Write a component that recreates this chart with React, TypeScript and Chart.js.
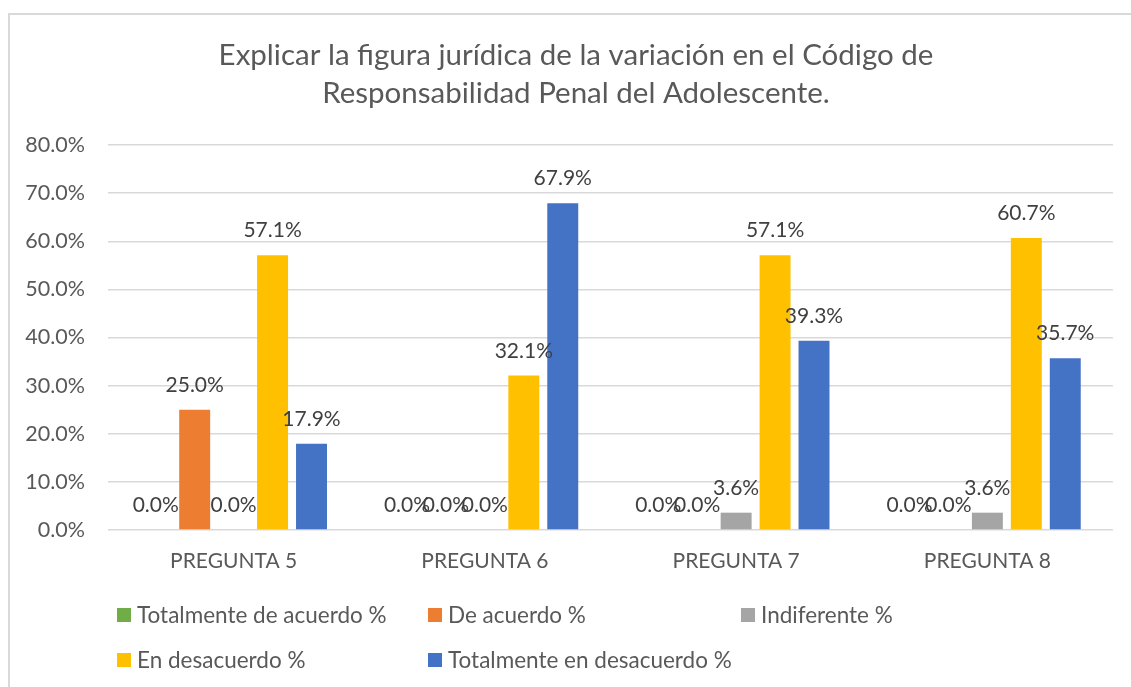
import React, { useEffect, useRef } from "react";
import { Chart, registerables } from "chart.js";

Chart.register(...registerables);

const titleLines = [
  "Explicar la figura jurídica de la variación en el Código de",
  "Responsabilidad Penal del Adolescente.",
];
const categories = ["PREGUNTA 5", "PREGUNTA 6", "PREGUNTA 7", "PREGUNTA 8"];
const seriesNames = [
  "Totalmente de acuerdo %",
  "De acuerdo %",
  "Indiferente %",
  "En desacuerdo %",
  "Totalmente en desacuerdo %",
];
const totalmenteDeAcuerdo = [0.0, 0.0, 0.0, 0.0];
const deAcuerdo = [25.0, 0.0, 0.0, 0.0];
const indiferente = [0.0, 0.0, 3.6, 3.6];
const enDesacuerdo = [57.1, 32.1, 57.1, 60.7];
const totalmenteEnDesacuerdo = [17.9, 67.9, 39.3, 35.7];
const seriesColors = ["#70AD47", "#ED7D31", "#A5A5A5", "#FFC000", "#4472C4"];
const yMax = 80;
const yStep = 10;

const FONT = "Lato, 'Open Sans', sans-serif";
const TEXT = "#595959";

const titlePlugin = {
  id: "customTitle",
  afterDraw(chart: any) {
    const ctx = chart.ctx;
    ctx.save();
    ctx.font = `29.5px ${FONT}`;
    ctx.fillStyle = TEXT;
    ctx.textAlign = "center";
    ctx.textBaseline = "middle";
    titleLines.forEach((line, i) => ctx.fillText(line, 566, 40 + i * 38));
    ctx.restore();
  },
};

const valueLabelPlugin = {
  id: "valueLabels",
  afterDatasetsDraw(chart: any) {
    const ctx = chart.ctx;
    ctx.save();
    ctx.font = `21px ${FONT}`;
    ctx.fillStyle = "#404040";
    ctx.textAlign = "center";
    ctx.textBaseline = "alphabetic";
    chart.data.datasets.forEach((ds: any, di: number) => {
      const meta = chart.getDatasetMeta(di);
      meta.data.forEach((el: any, i: number) => {
        const v = ds.data[i] as number;
        ctx.fillText(v.toFixed(1) + "%", el.x, el.y - 18);
      });
    });
    ctx.restore();
  },
};

const legendPlugin = {
  id: "gridLegend",
  afterDraw(chart: any) {
    const ctx = chart.ctx;
    const cols = [107, 418, 731];
    const rows = [600, 645];
    ctx.save();
    ctx.font = `22.5px ${FONT}`;
    ctx.textBaseline = "middle";
    ctx.textAlign = "left";
    chart.data.datasets.forEach((ds: any, i: number) => {
      const x = cols[i % 3];
      const y = rows[Math.floor(i / 3)];
      ctx.fillStyle = ds.backgroundColor;
      ctx.fillRect(x, y - 7, 14, 14);
      ctx.fillStyle = TEXT;
      ctx.fillText(ds.label, x + 20, y + 1);
    });
    ctx.restore();
  },
};

export default function App() {
  const ref = useRef<HTMLCanvasElement | null>(null);
  useEffect(() => {
    if (!ref.current) return;
    const series = [totalmenteDeAcuerdo, deAcuerdo, indiferente, enDesacuerdo, totalmenteEnDesacuerdo];
    const chart = new Chart(ref.current, {
      type: "bar",
      data: {
        labels: categories,
        datasets: series.map((d, i) => ({
          label: seriesNames[i],
          data: d,
          backgroundColor: seriesColors[i],
          borderWidth: 0,
          categoryPercentage: 0.775,
          barPercentage: 0.795,
        })),
      },
      options: {
        animation: false,
        responsive: false,
        devicePixelRatio: 1,
        layout: { padding: { top: 130, right: 18, left: 0, bottom: 0 } },
        plugins: {
          legend: { display: false },
          title: { display: false },
          tooltip: { enabled: false },
        },
        scales: {
          x: {
            grid: { display: false, drawTicks: false },
            border: { display: false },
            ticks: { color: TEXT, font: { family: FONT, size: 21 }, padding: 19 },
            afterFit: (s: any) => { s.height = 157; },
          },
          y: {
            min: 0,
            max: yMax,
            grid: { color: "#D9D9D9", lineWidth: 1.5, drawTicks: false },
            border: { display: false },
            ticks: {
              stepSize: yStep,
              color: TEXT,
              font: { family: FONT, size: 21.5 },
              padding: 23,
              callback: (v: any) => Number(v).toFixed(1) + "%",
            },
            afterFit: (s: any) => { s.width = 98; },
          },
        },
      },
      plugins: [titlePlugin, valueLabelPlugin, legendPlugin],
    });
    return () => chart.destroy();
  }, []);
  return (
    <div
      style={{
        position: "fixed",
        left: 8,
        top: 13,
        right: 0,
        bottom: 0,
        borderTop: "2px solid #D9D9D9",
        borderLeft: "2px solid #D9D9D9",
        background: "#fff",
      }}
    >
      <canvas ref={ref} width={1121} height={672} style={{ display: "block" }} />
    </div>
  );
}
